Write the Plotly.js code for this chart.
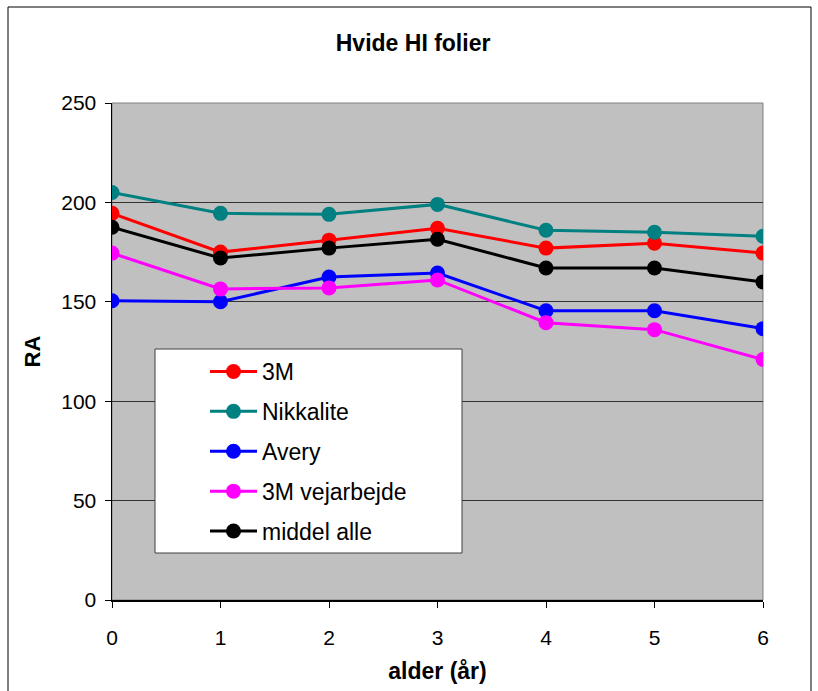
<!DOCTYPE html>
<html>
<head>
<meta charset="utf-8">
<script src="https://cdn.plot.ly/plotly-3.0.1.min.js"></script>
<style>html,body{margin:0;padding:0;background:#fff;}#chart{width:818px;height:691px;}</style>
</head>
<body>
<div id="chart"></div>
<script>
const ages = [0, 1, 2, 3, 4, 5, 6];
const seriesNames = ["3M", "Nikkalite", "Avery", "3M vejarbejde", "middel alle"];
const s3M = [194.5, 175, 181, 187, 177, 179.5, 174.5];
const sNikkalite = [205, 194.5, 194, 199, 186, 185, 183];
const sAvery = [150.5, 150, 162.5, 164.5, 145.5, 145.5, 136.5];
const s3MVej = [174.5, 156.5, 157, 161, 139.5, 136, 121];
const sMiddel = [187.5, 172, 177, 181.5, 167, 167, 160];
const yTicks = [0, 50, 100, 150, 200, 250];

const values = [s3M, sNikkalite, sAvery, s3MVej, sMiddel];
const colors = ["#FF0000", "#008080", "#0000FF", "#FF00FF", "#000000"];

const traces = values.map((v, i) => ({
  x: ages, y: v, name: seriesNames[i], type: "scatter", mode: "lines+markers",
  legendgroup: "g" + i,
  line: {color: colors[i], width: 3},
  marker: {color: colors[i], size: 15}
}));

// plot area in pixels: left 112, right 763, top 103, bottom 600
const L = 112, R = 763, T = 103, B = 600;
const px = x => (x - L) / (R - L);
const py = y => (B - y) / (B - T);

const layout = {
  width: 818, height: 691,
  margin: {l: L, r: 818 - R, t: T, b: 691 - B},
  paper_bgcolor: "#ffffff",
  plot_bgcolor: "#C0C0C0",
  font: {family: "Liberation Sans, Arial, sans-serif", color: "#000", size: 20},
  title: {text: "<b>Hvide HI folier</b>", x: 0.505, xanchor: "center", y: 1 - 43 / 691, yanchor: "middle",
          font: {size: 23, family: "Liberation Sans, Arial, sans-serif"}},
  xaxis: {
    range: [0, 6], tickvals: ages, ticktext: ages.map(String),
    showline: true, linecolor: "#000", linewidth: 1.5, mirror: false,
    ticks: "outside", ticklen: 6, tickcolor: "#000", tickwidth: 1,
    showgrid: false, zeroline: false,
    ticklabelstandoff: 12,
    tickfont: {size: 21},
    title: {text: "<b>alder (år)</b>", font: {size: 23}, standoff: 15}
  },
  yaxis: {
    range: [0, 250], tickvals: yTicks, ticktext: yTicks.map(String),
    showline: true, linecolor: "#000", linewidth: 1.5,
    ticks: "outside", ticklen: 6, tickcolor: "#000",
    showgrid: true, gridcolor: "#333333", gridwidth: 1, zeroline: false,
    ticklabelstandoff: 4,
    tickfont: {size: 21},
    title: {text: "<b>RA</b>", font: {size: 22}, standoff: 14}
  },
  showlegend: true,
  legend: {
    x: px(205), y: py(350), xanchor: "left", yanchor: "top",
    bgcolor: "rgba(0,0,0,0)", borderwidth: 0,
    traceorder: "grouped", tracegroupgap: 7, itemwidth: 47,
    font: {size: 23, family: "Liberation Sans, Arial, sans-serif"}
  },
  shapes: [
    {type: "rect", xref: "paper", yref: "paper", x0: 0, x1: 1, y0: 0, y1: 1,
     line: {color: "#808080", width: 1}, layer: "below"},
    {type: "rect", xref: "paper", yref: "paper", x0: px(155), x1: px(462), y0: py(553), y1: py(349),
     fillcolor: "#ffffff", line: {color: "#404040", width: 1}, layer: "above"},
    {type: "rect", xref: "paper", yref: "paper", x0: px(8), x1: px(811), y0: py(720), y1: py(7),
     line: {color: "#000000", width: 1}, layer: "above"}
  ]
};

Plotly.newPlot("chart", traces, layout, {displayModeBar: false, staticPlot: true});
</script>
</body>
</html>
